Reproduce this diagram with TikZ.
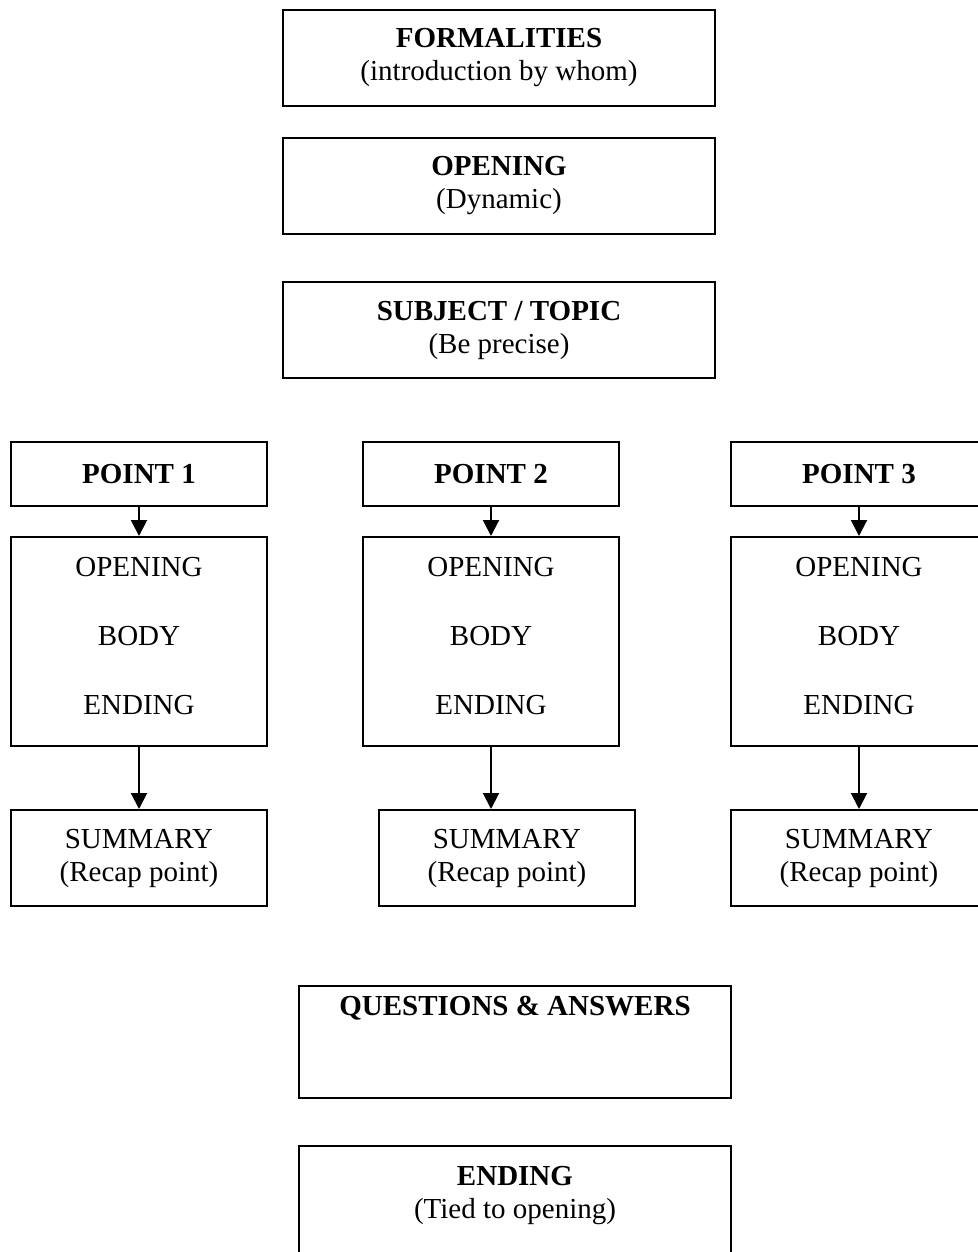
\documentclass[tikz,border=0pt]{standalone}
\usepackage{fontspec}
\setmainfont{Liberation Serif}
\usetikzlibrary{arrows.meta}
\begin{document}
\begin{tikzpicture}[x=1pt, y=-1pt,
    box/.style={draw, line width=2pt, align=center, inner sep=0pt, font=\fontsize{29}{33}\selectfont},
    widebox/.style={box, minimum width=432pt, minimum height=96pt},
    pointbox/.style={box, minimum width=256pt, minimum height=64pt, font=\fontsize{29}{33}\selectfont\bfseries},
    partbox/.style={box, minimum width=256pt, minimum height=209pt, text depth=12pt, font=\fontsize{29}{69}\selectfont},
    sumbox/.style={box, minimum width=256pt, minimum height=96pt},
    arr/.style={line width=2pt, -{Triangle[length=16pt, width=16pt]}}]
            \useasboundingbox (0,0) rectangle (977,1252);
            \node[widebox] (form) at (499, 58)  {\textbf{FORMALITIES}\\(introduction by whom)};
            \node[widebox] (open) at (499, 186) {\textbf{OPENING}\\(Dynamic)};
            \node[widebox] (subj) at (499, 330) {\textbf{SUBJECT / TOPIC}\\(Be precise)};
            \node[pointbox] (pt1) at (139, 474) {POINT 1};
            \node[pointbox] (pt2) at (491, 474) {POINT 2};
            \node[pointbox] (pt3) at (859, 474) {POINT 3};
            \node[partbox] (part1) at (139, 641.5) {OPENING\\BODY\\ENDING};
            \node[partbox] (part2) at (491, 641.5) {OPENING\\BODY\\ENDING};
            \node[partbox] (part3) at (859, 641.5) {OPENING\\BODY\\ENDING};
            \node[sumbox] (sum1) at (139, 858) {SUMMARY\\(Recap point)};
            \node[sumbox] (sum2) at (507, 858) {SUMMARY\\(Recap point)};
            \node[sumbox] (sum3) at (859, 858) {SUMMARY\\(Recap point)};
            \node[widebox, minimum height=112pt, text depth=73pt] (qa) at (515, 1042) {\textbf{QUESTIONS \& ANSWERS}};
            \node[widebox, minimum height=112pt, text depth=19pt] (end) at (515, 1202) {\textbf{ENDING}\\(Tied to opening)};
            \draw[arr] (pt1) -- (part1);
            \draw[arr] (pt2) -- (part2);
            \draw[arr] (pt3) -- (part3);
            \draw[arr] (part1) -- (sum1);
            \draw[arr] (part2.south) -- (part2.south |- sum2.north);
            \draw[arr] (part3) -- (sum3);
        \end{tikzpicture}
\end{document}
